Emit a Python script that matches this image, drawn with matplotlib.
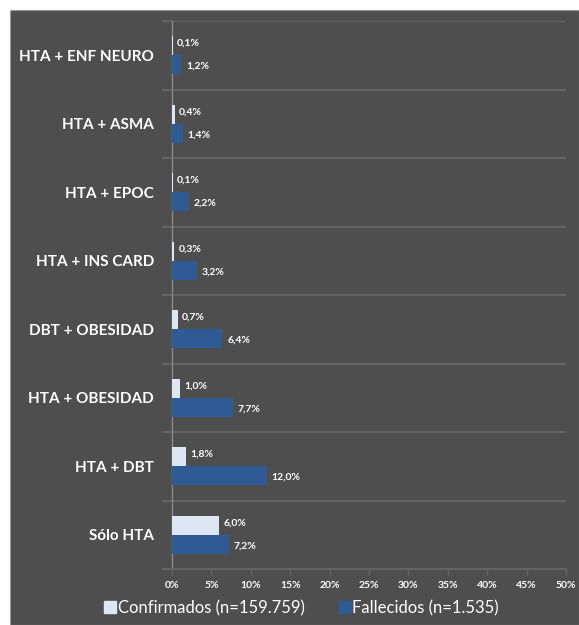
import matplotlib
matplotlib.use("Agg")
import matplotlib.pyplot as plt
import numpy as np
from matplotlib.patches import Rectangle
from matplotlib.lines import Line2D

categories = ["HTA + ENF NEURO", "HTA + ASMA", "HTA + EPOC", "HTA + INS CARD",
              "DBT + OBESIDAD", "HTA + OBESIDAD", "HTA + DBT", "Sólo HTA"]
confirmados = [0.1, 0.4, 0.1, 0.3, 0.7, 1.0, 1.8, 6.0]
fallecidos = [1.2, 1.4, 2.2, 3.2, 6.4, 7.7, 12.0, 7.2]
xticks = [0, 5, 10, 15, 20, 25, 30, 35, 40, 45, 50]
legend_labels = ["Confirmados (n=159.759)", "Fallecidos (n=1.535)"]

BG = "#4e4e4e"
GRID = "#646464"
C1 = "#dde7f3"
C2 = "#2f5b94"
FONT = "Lato"

W, H = 579, 625
fig = plt.figure(figsize=(W / 100, H / 100), dpi=100, facecolor="white")
bgpatch = Rectangle((10 / W, 0), 1 - 10 / W, 1 - 10 / H, transform=fig.transFigure,
                    facecolor=BG, edgecolor="#9a9a9a", linewidth=0.8, zorder=-10)
fig.add_artist(bgpatch)

ax = fig.add_axes([172 / W, 1 - 569 / H, (566 - 172) / W, (569 - 21) / H])
ax.set_zorder(1)
ax.set_facecolor(BG)

n = len(categories)
y = np.arange(n)
bh = 0.28
ax.barh(y - bh / 2, confirmados, height=bh, color=C1, zorder=3)
ax.barh(y + bh / 2, fallecidos, height=bh, color=C2, zorder=3)

def fmt(v):
    return f"{v:.1f}%".replace(".", ",")

for i in range(n):
    ax.text(confirmados[i] + 0.5, y[i] - bh / 2 - 0.03, fmt(confirmados[i]), color="white",
            fontsize=7.5, fontweight="bold", family=FONT, va="center", ha="left", zorder=4)
    ax.text(fallecidos[i] + 0.6, y[i] + bh / 2 + 0.02, fmt(fallecidos[i]), color="white",
            fontsize=7.5, fontweight="bold", family=FONT, va="center", ha="left", zorder=4)

ax.set_xlim(0, 50)
ax.set_ylim(n - 0.5, -0.5)
ax.set_xticks(xticks)
ax.set_xticklabels([f"{t}%" for t in xticks], color="white", fontsize=7.5,
                   fontweight="bold", family=FONT)
ax.tick_params(axis="x", colors=GRID, length=4, width=1, labelcolor="white", pad=5)

ax.set_yticks(y)
ax.set_yticklabels(categories, color="white", fontsize=11, fontweight="bold", family=FONT)
ax.tick_params(axis="y", length=0, pad=13)
ax.set_yticks(np.arange(-0.5, n, 1), minor=True)
ax.tick_params(axis="y", which="minor", length=7, width=1.5, color=GRID)
ax.grid(axis="y", which="minor", color=GRID, linewidth=1.5, zorder=1)

for s in ["top", "right"]:
    ax.spines[s].set_visible(False)
ax.spines["left"].set_color("#8a8a8a")
ax.spines["bottom"].set_color(GRID)
ax.spines["bottom"].set_linewidth(1.5)
ax.spines["left"].set_linewidth(1)

handles = [Line2D([], [], marker="s", linestyle="none", markersize=8, color=c) for c in (C1, C2)]
fig.legend(handles, legend_labels, loc="center", bbox_to_anchor=(0.52, 1 - 608 / H), ncol=2,
           frameon=False, handletextpad=0.05, columnspacing=2.0,
           prop={"family": FONT, "size": 12}, labelcolor="white", handlelength=0.8)

fig.savefig("out.png", dpi=100, facecolor="white")
